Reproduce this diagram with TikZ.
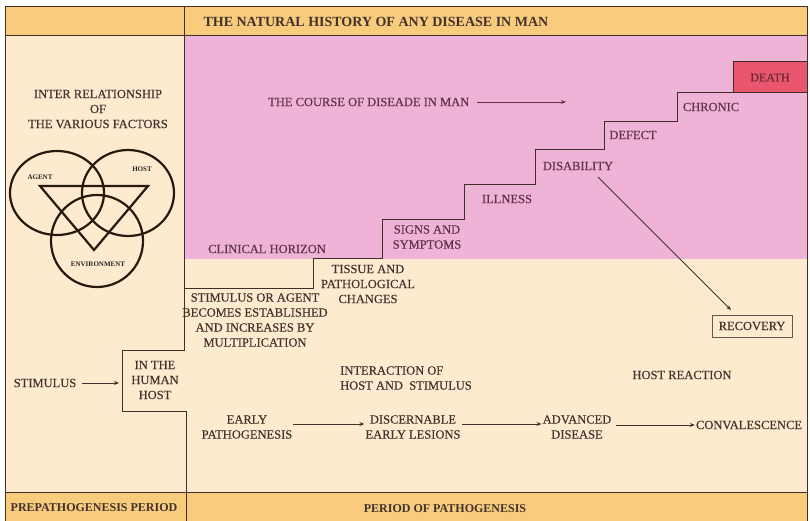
\documentclass[tikz,border=0pt]{standalone}
\usepackage{fontspec}
\setmainfont{Liberation Serif}
\newfontfamily\bodyfont{Liberation Serif}[FakeBold=0.35]
\usetikzlibrary{arrows.meta}
\usetikzlibrary{positioning}
\definecolor{bandorange}{RGB}{248,203,125}
\definecolor{peach}{RGB}{253,234,207}
\definecolor{pinkzone}{RGB}{238,179,214}
\definecolor{deathred}{RGB}{233,86,110}
\definecolor{browntext}{RGB}{66,50,44}
\definecolor{plumtext}{RGB}{96,50,78}
\definecolor{frameline}{RGB}{62,46,40}

\begin{document}
\begin{tikzpicture}[x=1pt, y=-1pt,
  lbl/.style={font=\bodyfont\fontsize{12.5}{15}\selectfont, text=browntext, align=center, inner sep=1pt},
  plum/.style={lbl, text=plumtext},
  head/.style={font=\bfseries\fontsize{12}{14}\selectfont, text=browntext},
  tiny/.style={font=\bfseries\fontsize{7}{8}\selectfont, text=black!85, inner sep=0pt},
  arr/.style={-{Stealth[length=5pt,width=4pt]}, line width=0.8pt, draw=browntext},
  venn/.style={line width=2.2pt, draw=black!80!brown},
  edge/.style={draw=frameline, line width=1pt}]
\useasboundingbox (0,0) rectangle (810,521);

% backgrounds
\fill[peach] (5,36) rectangle (807,492);
\fill[pinkzone] (184,36) rectangle (807,259);
\fill[bandorange] (5,7) rectangle (807,36);
\fill[bandorange] (5,492) rectangle (807,521);

% frame and dividers
\draw[edge] (5,521) -- (5,7) -- (807,7) -- (807,521);
\draw[edge] (5,36) -- (807,36);
\draw[edge] (5,492) -- (807,492);
\draw[edge] (184,7) -- (184,36);
\draw[edge] (184,36) -- (184,350) -- (122,350) -- (122,411) -- (186,411) -- (186,521);

% staircase
\draw[edge] (184,288) -- (313,288) -- (313,258) -- (382,258) -- (382,220)
  -- (464,220) -- (464,185) -- (535,185) -- (535,150) -- (604,150)
  -- (604,122) -- (677,122) -- (677,93) -- (733,93);

% bands
\node[head, font=\bfseries\fontsize{14}{16}\selectfont, anchor=west] (title) at (200,22) {THE NATURAL HISTORY OF ANY DISEASE IN MAN};
\node[head] (prepath) at (94,508) {PREPATHOGENESIS PERIOD};
\node[head] (pathperiod) at (445,509) {PERIOD OF PATHOGENESIS};

% left column
\node[lbl] (factors) at (98,109) {INTER RELATIONSHIP\\OF\\THE VARIOUS FACTORS};
\draw[venn] (57,193) ellipse [x radius=47, y radius=42];
\draw[venn] (128,193) ellipse [x radius=46, y radius=43];
\draw[venn] (97,241) circle [radius=46];
\draw[venn, line join=miter] (40,186) -- (148,186) -- (94,250) -- cycle;
\node[tiny] (agent) at (40,177) {AGENT};
\node[tiny] (host) at (142,169) {HOST};
\node[tiny] (environment) at (98,264) {ENVIRONMENT};

\node[lbl] (stimulus) at (45,383) {STIMULUS};
\node[lbl] (inhost) at (155,380) {IN THE\\HUMAN\\HOST};
\coordinate (hostedge) at (119,383);
\draw[arr] (stimulus.east) ++(5,0) -- (hostedge);

% course of disease
\node[plum, anchor=west] (course) at (267,102) {THE COURSE OF DISEADE IN MAN};
\coordinate (courseend) at (566,102);
\draw[arr, draw=plumtext] (course.east) ++(7,0) -- (courseend);

\node[draw=frameline, line width=1pt, fill=deathred, minimum width=74, minimum height=31,
  font=\bodyfont\fontsize{12}{14}\selectfont, text=black!55!deathred] (death) at (770,77.5) {DEATH};
\node[plum] (chronic) at (711,107) {CHRONIC};
\node[plum] (defect) at (633,135) {DEFECT};
\node[plum] (disability) at (578,166) {DISABILITY};
\node[plum] (illness) at (507,199) {ILLNESS};
\node[plum] (signs) at (427,237) {SIGNS AND\\SYMPTOMS};
\node[plum] (clinical) at (267,249) {CLINICAL HORIZON};

% below the horizon
\node[lbl] (tissue) at (368,284) {TISSUE AND\\PATHOLOGICAL\\CHANGES};
\node[lbl] (established) at (255,320) {STIMULUS OR AGENT\\BECOMES ESTABLISHED\\AND INCREASES BY\\MULTIPLICATION};
\node[lbl, align=left, anchor=west] (interaction) at (339,378) {INTERACTION OF\\HOST AND\ \ STIMULUS};
\node[lbl] (reaction) at (682,375) {HOST REACTION};
\node[lbl, draw=frameline!80, line width=1pt, minimum width=80, minimum height=22] (recovery) at (752,326) {RECOVERY};
\coordinate (disfoot) at (598,177);
\coordinate (recoverytip) at (731,310);
\draw[arr] (disfoot) -- (recoverytip);

\node[lbl] (early) at (247,427) {EARLY\\PATHOGENESIS};
\node[lbl] (lesions) at (413,427) {DISCERNABLE\\EARLY LESIONS};
\node[lbl] (advanced) at (577,427) {ADVANCED\\DISEASE};
\node[lbl] (conval) at (749,425) {CONVALESCENCE};
\draw[arr] (early.east) ++(0,-3) -- (lesions.west |- 0,424);
\draw[arr] (lesions.east) ++(0,-3) -- (advanced.west |- 0,424);
\draw[arr] (advanced.east) ++(4,-2) -- (conval.west |- 0,425);
\end{tikzpicture}
\end{document}
